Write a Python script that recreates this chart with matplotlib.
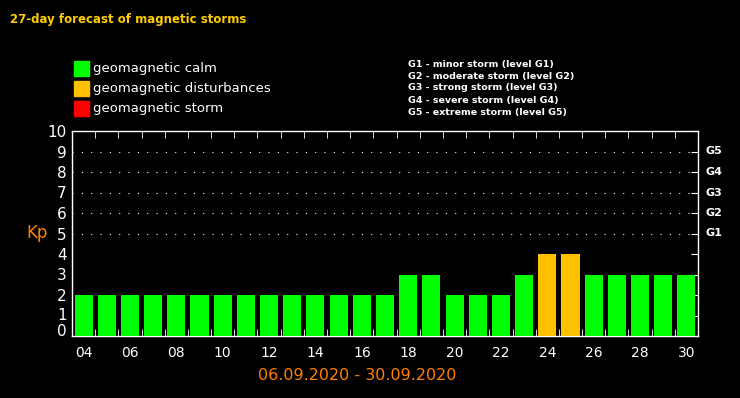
import matplotlib
matplotlib.use("Agg")
import matplotlib.pyplot as plt
import matplotlib.patches as patches
import matplotlib.transforms as mtransforms

W, H = 740, 398

# forecast data
days = list(range(4, 31))
kp = [2, 2, 2, 2, 2, 2, 2, 2, 2, 2, 2, 2, 2, 2,
      3, 3, 2, 2, 2, 3, 4, 4, 3, 3, 3, 3, 3]
levels = ["calm" if k < 4 else ("dist" if k < 5 else "storm") for k in kp]

colors = {"calm": "#00ff00", "dist": "#ffc000", "storm": "#ff0000"}
legend_labels = ["geomagnetic calm", "geomagnetic disturbances", "geomagnetic storm"]
g_labels = ["G1", "G2", "G3", "G4", "G5"]
g_text = ["G1 - minor storm (level G1)",
          "G2 - moderate storm (level G2)",
          "G3 - strong storm (level G3)",
          "G4 - severe storm (level G4)",
          "G5 - extreme storm (level G5)"]
date_range = "06.09.2020 - 30.09.2020"


def px(x, y):
    # pixel coords (top-left origin) -> figure fraction
    return x / W, 1 - y / H


fig = plt.figure(figsize=(W / 100, H / 100), dpi=100, facecolor="black")
ax = fig.add_axes([72 / W, 1 - 336 / H, (698 - 72) / W, (336 - 131) / H])
ax.set_facecolor("black")

ax.bar(days, kp, width=0.78, color=[colors[l] for l in levels], zorder=3)

ax.set_xlim(3.5, 30.5)
ax.set_ylim(0, 10)

# dotted grid for storm levels
for lv in range(5, 10):
    ax.axhline(lv, color="white", lw=0.8, ls=(0, (1, 7.4)), zorder=1)

for s in ax.spines.values():
    s.set_color("white")
    s.set_linewidth(1.0)

ax.set_yticks(range(0, 11))
ax.set_yticklabels([str(i) for i in range(0, 11)], color="white", fontsize=11)
ax.tick_params(axis="y", left=False, right=True, labelleft=True,
               direction="in", length=5, color="white", pad=4)
# the bottom two labels sit a bit higher
for lab, dy in zip(ax.get_yticklabels()[:2], [6, 2]):
    lab.set_transform(lab.get_transform() +
                      mtransforms.ScaledTranslation(0, dy / 100, fig.dpi_scale_trans))

ax.set_xticks(days[::2])
ax.set_xticklabels(["%02d" % d for d in days[::2]], color="white", fontsize=10)
ax.tick_params(axis="x", which="major", length=0, pad=7)
ax.set_xticks([d + 0.5 for d in days[:-1]], minor=True)
ax.tick_params(axis="x", which="minor", top=True, bottom=True,
               direction="in", length=5, color="white")

# G levels on the right
for i, g in enumerate(g_labels):
    ax.text(1.012, 5 + i, g, transform=ax.get_yaxis_transform(),
            color="white", fontsize=8, fontweight="bold", va="center", ha="left")

fig.text(*px(26, 233), "Kp", color="#ff8000", fontsize=12, va="center", ha="left")
fig.text(*px(357, 375), date_range, color="#ff8000", fontsize=11.5,
         va="center", ha="center")

fig.text(*px(10, 20), "27-day forecast of magnetic storms", color="#ffcc00",
         fontsize=8.5, fontweight="bold", va="center", ha="left")

# legend
for i, (key, lab) in enumerate(zip(["calm", "dist", "storm"], legend_labels)):
    y0 = 61 + 20 * i
    x0, y1 = px(74, y0 + 15)
    fig.patches.append(patches.Rectangle((x0, y1), 15 / W, 15 / H,
                                         transform=fig.transFigure,
                                         color=colors[key]))
    fig.text(*px(93, y0 + 7.5), lab, color="white", fontsize=9.5,
             va="center", ha="left")

for i, t in enumerate(g_text):
    fig.text(*px(408, 64 + 12 * i), t, color="white", fontsize=6.8,
             fontweight="bold", va="center", ha="left")

fig.savefig("out.png", dpi=100, facecolor="black")
